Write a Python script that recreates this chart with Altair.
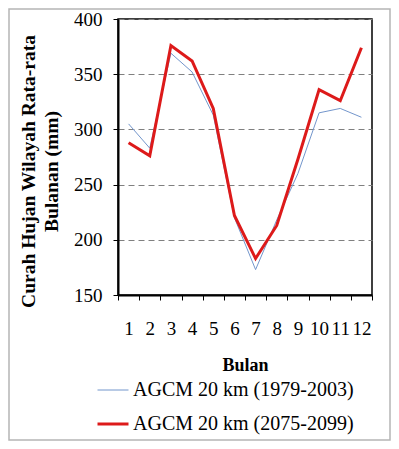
import altair as alt
import pandas as pd

months = [str(m) for m in range(1, 13)]
series_names = ["AGCM 20 km (1979-2003)", "AGCM 20 km (2075-2099)"]
baseline = [305, 283, 369, 352, 313, 220, 173, 218, 260, 315, 319, 311]
future = [288, 276, 376, 362, 319, 222, 183, 213, 273, 336, 326, 374]
y_ticks = [150, 200, 250, 300, 350, 400]

rows = []
for name, vals in zip(series_names, [baseline, future]):
    for m, v in zip(months, vals):
        rows.append({"Bulan": m, "value": v, "series": name})
df = pd.DataFrame(rows)

W, H = 254, 276
serif = "'Liberation Serif', 'Times New Roman', Times, serif"

lines = alt.Chart(df).mark_line().encode(
    x=alt.X("Bulan:N", sort=months,
            scale=alt.Scale(paddingInner=0, paddingOuter=0),
            axis=alt.Axis(title="Bulan", labelAngle=0, tickBand="extent",
                          labelFontSize=19, labelFont=serif, labelColor="black",
                          labelPadding=19, tickSize=5, tickColor="black",
                          domainColor="black", domainWidth=2,
                          titleFont=serif, titleFontSize=18, titleFontWeight="bold",
                          titleColor="black", titlePadding=18, grid=False,
                          labelOverlap=False)),
    y=alt.Y("value:Q", scale=alt.Scale(domain=[150, 400], nice=False),
            axis=alt.Axis(title=["Curah Hujan Wilayah Rata-rata", "Bulanan (mm)"],
                          values=y_ticks, labelFontSize=19, labelFont=serif,
                          labelColor="black", labelPadding=11, tickSize=5,
                          tickColor="black", domainColor="black", domainWidth=2,
                          titleFont=serif, titleFontSize=19.5, titleFontWeight="bold",
                          titleColor="black", titleLineHeight=23,
                          titleX=-80, titleY=152,
                          grid=True, gridDash=[6, 4], gridColor="#808080",
                          gridWidth=1)),
    color=alt.Color("series:N", scale=alt.Scale(domain=series_names,
                                                range=["#7396cc", "#dd1a1a"]),
                    legend=alt.Legend(title=None, orient="none", legendX=-22,
                                      legendY=355, symbolType="stroke",
                                      symbolSize=961, labelFont=serif,
                                      labelFontSize=20, labelColor="black",
                                      labelLimit=0,
                                      rowPadding=7, labelOffset=3,
                                      symbolOffset=0)),
    strokeWidth=alt.StrokeWidth("series:N",
                                scale=alt.Scale(domain=series_names, range=[1, 3]),
                                legend=alt.Legend(title=None, orient="none",
                                                  legendX=-22, legendY=355)),
)

frame = alt.Chart(pd.DataFrame({"a": [0]})).mark_rect(
    fill=None, stroke="#b5b5b5", strokeWidth=1.5
).encode(x=alt.value(-109), x2=alt.value(272), y=alt.value(-10), y2=alt.value(421))

chart = alt.layer(frame, lines).properties(
    width=W, height=H,
    autosize=alt.AutoSizeParams(type="none"),
    padding={"left": 110, "top": 11, "right": 19, "bottom": 146},
).configure(background="white", font=serif).configure_view(
    stroke="black", strokeWidth=1.5
).configure_axis(labelFont=serif, titleFont=serif).configure_legend(
    labelFont=serif, labelLimit=0
)

chart.save("out.html", embed_options={"renderer": "svg", "actions": False})
